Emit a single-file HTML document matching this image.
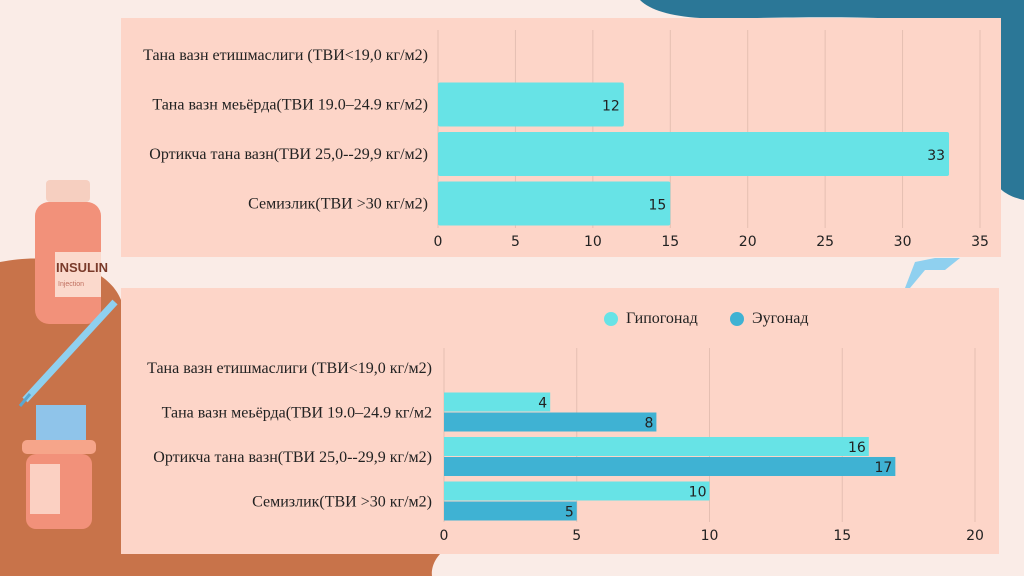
<!DOCTYPE html>
<html><head><meta charset="utf-8"><style>
body{margin:0;width:1024px;height:576px;overflow:hidden;background:#faece7;font-family:"Liberation Sans",sans-serif;position:relative}
svg{position:absolute;left:0;top:0}
</style></head><body>
<svg width="1024" height="576">
<path d="M640,0 L1024,0 L1024,200 C1000,195 990,180 1001,175 L1001,30 C900,10 760,20 700,18 C670,16 650,10 640,0Z" fill="#2b7797"/>
<path d="M0,262 C60,250 110,270 121,300 L121,554 L440,554 C430,565 432,576 432,576 L0,576Z" fill="#c8734a"/>
<g>
<rect x="46" y="180" width="44" height="22" rx="4" fill="#f6cfc0"/>
<rect x="35" y="202" width="66" height="122" rx="14" fill="#f2917a"/>
<rect x="55" y="252" width="46" height="45" fill="#fbd9cc"/>
<text x="56" y="272" font-size="13" font-weight="bold" fill="#7a3a2a">INSULIN</text>
<text x="58" y="286" font-size="7" fill="#c07060">Injection</text>
</g>
<g>
<line x1="25" y1="400" x2="115" y2="302" stroke="#8fd0ef" stroke-width="7"/>
<line x1="20" y1="406" x2="30" y2="394" stroke="#5aa7d0" stroke-width="3"/>
</g>
<g>
<rect x="36" y="405" width="50" height="35" fill="#8fc4ea"/>
<rect x="22" y="440" width="74" height="14" rx="5" fill="#f6a58a"/>
<rect x="26" y="454" width="66" height="75" rx="10" fill="#f2917a"/>
<rect x="30" y="464" width="30" height="50" fill="#fbd0c2"/>
</g>
<path d="M905,288 L915,262 L935,258 L960,258 L945,270 L925,270 L910,288 Z" fill="#8fd0ef"/>

<rect x="121" y="18" width="880" height="239" fill="#fdd5c8"/>
<rect x="121" y="288" width="878" height="266" fill="#fdd5c8"/>
<g id="c1"></g><g id="c2"></g>
</svg>
<script>
const cats=["Тана вазн етишмаслиги (ТВИ<19,0 кг/м2)","Тана вазн меьёрда(ТВИ 19.0–24.9 кг/м2)","Ортикча тана вазн(ТВИ 25,0--29,9 кг/м2)","Семизлик(ТВИ >30 кг/м2)"];
const cats2=["Тана вазн етишмаслиги (ТВИ<19,0 кг/м2)","Тана вазн меьёрда(ТВИ 19.0–24.9 кг/м2","Ортикча тана вазн(ТВИ 25,0--29,9 кг/м2)","Семизлик(ТВИ >30 кг/м2)"];
const topVals=[0,12,33,15];
const topTicks=[0,5,10,15,20,25,30,35];
const hypoVals=[0,4,16,10];
const euVals=[0,8,17,5];
const botTicks=[0,5,10,15,20];
const NS="http://www.w3.org/2000/svg";
function mk(p,t,a,txt){const e=document.createElementNS(NS,t);for(const k in a)e.setAttribute(k,a[k]);if(txt!==undefined)e.textContent=txt;p.appendChild(e);return e;}
const FS='font-family:"Liberation Serif",serif;font-size:16px';
const FN='font-family:"DejaVu Sans",sans-serif;font-size:14px';
// top
const g1=document.getElementById('c1');
const x1=v=>438+v*(980-438)/35;
topTicks.forEach(t=>{
 const l=mk(g1,'line',{x1:x1(t),x2:x1(t),y1:30,y2:228,stroke:'#e5bfb2','stroke-width':1});
 
 
 const tx=mk(g1,'text',{x:x1(t),y:246,'text-anchor':'middle',style:FN,fill:'#222'},t);
 
 
});
cats.forEach((c,i)=>{
 const cy=55+i*49.5;
 const tx=mk(g1,'text',{x:428,y:cy+5,'text-anchor':'end',style:FS,fill:'#222'},c);
 
 
 if(topVals[i]>0){
  const r=mk(g1,'rect',{x:x1(0),y:cy-22,width:x1(topVals[i])-x1(0),height:44,rx:2,fill:'#67e3e6'});
  
  
  const v=mk(g1,'text',{x:x1(topVals[i])-4,y:cy+6,'text-anchor':'end',style:FN,fill:'#222'},topVals[i]);
  
  
 }
});
// bottom
const g2=document.getElementById('c2');
const x2=v=>444+v*(975-444)/20;
botTicks.forEach(t=>{
 const l=mk(g2,'line',{x1:x2(t),x2:x2(t),y1:348,y2:522,stroke:'#e5bfb2','stroke-width':1});
 
 
 const tx=mk(g2,'text',{x:x2(t),y:540,'text-anchor':'middle',style:FN,fill:'#222'},t);
 
 
});
cats2.forEach((c,i)=>{
 const cy=368+i*44.5;
 const tx=mk(g2,'text',{x:432,y:cy+5,'text-anchor':'end',style:FS,fill:'#222'},c);
 
 
 [[hypoVals,'#67e3e6',-20],[euVals,'#3fb2d3',0]].forEach(([arr,col,off])=>{
  if(arr[i]>0){
   const r=mk(g2,'rect',{x:x2(0),y:cy+off,width:x2(arr[i])-x2(0),height:19,fill:col});
   
   
   const v=mk(g2,'text',{x:x2(arr[i])-3,y:cy+off+15,'text-anchor':'end',style:FN,fill:'#222'},arr[i]);
   
   
  }
 });
});
[['Гипогонад','#67e3e6',611],['Эугонад','#3fb2d3',737]].forEach(([n,c,x])=>{
 const ci=mk(g2,'circle',{cx:x,cy:319,r:7,fill:c});
 
 
 const t=mk(g2,'text',{x:x+15,y:323,style:FS,fill:'#222'},n);
 
 
});
</script>
</body></html>
